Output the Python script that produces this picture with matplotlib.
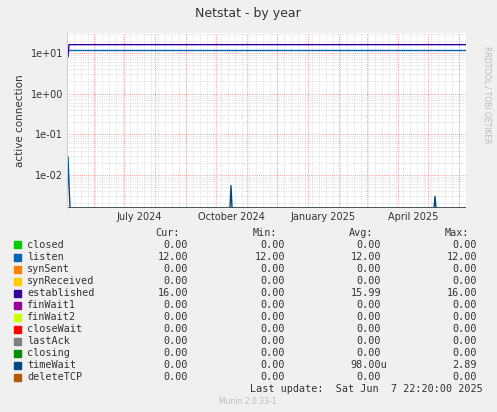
import matplotlib
matplotlib.use("Agg")
import matplotlib.pyplot as plt
import matplotlib.dates as mdates
import numpy as np
from datetime import datetime, timedelta

# ---- data ----
x_start = "2024-05-05"
x_end = "2025-06-08"
listen_dates = ["2024-05-06", "2025-06-08"]
listen_vals = [12, 12]
est_dates = ["2024-05-05", "2024-05-06", "2024-05-07", "2025-06-08"]
est_vals = [12, 8, 16, 16]
tw_dates = ["2024-05-05", "2024-05-06", "2024-05-07", "2024-05-08",
            "2024-10-15", "2024-10-16", "2024-10-17",
            "2025-05-07", "2025-05-08", "2025-05-09", "2025-06-08"]
tw_vals = [0, 0.028, 0.006, 0, 0, 0.0055, 0, 0, 0.003, 0, 0]
names = ["closed", "listen", "synSent", "synReceived", "established", "finWait1",
         "finWait2", "closeWait", "lastAck", "closing", "timeWait", "deleteTCP"]
colors = ["#00CC00", "#0066B3", "#FF8000", "#FFCC00", "#330099", "#990099",
          "#CCFF00", "#FF0000", "#808080", "#008F00", "#00487D", "#B35A00"]
cur = ["0.00", "12.00", "0.00", "0.00", "16.00", "0.00", "0.00", "0.00", "0.00", "0.00", "0.00", "0.00"]
mn = ["0.00", "12.00", "0.00", "0.00", "0.00", "0.00", "0.00", "0.00", "0.00", "0.00", "0.00", "0.00"]
avg = ["0.00", "12.00", "0.00", "0.00", "15.99", "0.00", "0.00", "0.00", "0.00", "0.00", "98.00u", "0.00"]
mx = ["0.00", "12.00", "0.00", "0.00", "16.00", "0.00", "0.00", "0.00", "0.00", "0.00", "2.89", "0.00"]
tick_dates = ["2024-07-16", "2024-10-16", "2025-01-16", "2025-04-16"]
tick_labels = ["July 2024", "October 2024", "January 2025", "April 2025"]

W, H = 497, 412
fig = plt.figure(figsize=(W/100, H/100), dpi=100, facecolor="#F0F0F0")
ax = fig.add_axes([67/W, 1-208/H, (466-67)/W, (208-33)/H])
ax.set_facecolor("white")
ax.set_yscale("log")
ymin, ymax = 10**-2.81, 10**1.49
ax.set_ylim(ymin, ymax)
d = lambda s: datetime.strptime(s, "%Y-%m-%d")
ax.set_xlim(d(x_start), d(x_end))

floor = ymin * 1.0001
def clip(v):
    return [max(x, floor) for x in v]

for i, n in enumerate(names):
    if n in ("listen", "established", "timeWait"):
        continue
    ax.plot([d(x_start), d(x_end)], [floor, floor], color=colors[i], lw=1)
ax.plot([d(s) for s in tw_dates], clip(tw_vals), color=colors[10], lw=1)
ax.step([d(s) for s in listen_dates], listen_vals, where="post", color=colors[1], lw=1)
ax.plot([d(s) for s in est_dates], est_vals, color=colors[4], lw=1)
ax.plot([d(x_start), d(x_end)], [floor, floor], color=colors[11], lw=1)

# grid
for m in range(12 * 2024 + 5, 12 * 2025 + 6):
    y, mo = divmod(m, 12)
    ax.axvline(datetime(y, mo + 1, 1), color="#F08080", lw=0.6, ls=(0, (1, 1.5)), zorder=0)
wk = d(x_start)
while wk < d(x_end):
    ax.axvline(wk, color="#C8C8C8", lw=0.5, ls=(0, (1, 1.5)), zorder=0)
    wk += timedelta(days=7)
for e in range(-3, 2):
    ax.axhline(10.0**e, color="#F08080", lw=0.6, ls=(0, (1, 1.5)), zorder=0)
    for k in range(2, 10):
        v = k * 10.0**e
        if ymin < v < ymax:
            ax.axhline(v, color="#C8C8C8", lw=0.5, ls=(0, (1, 1.5)), zorder=0)

ax.set_yticks([1e-2, 1e-1, 1, 10])
ax.set_yticklabels(["1e-02", "1e-01", "1e+00", "1e+01"])
ax.yaxis.set_minor_locator(matplotlib.ticker.NullLocator())
ax.set_xticks([d(s) for s in tick_dates])
ax.set_xticklabels(tick_labels)
ax.tick_params(length=0, labelsize=7, colors="#333333", pad=3)
for s in ax.spines.values():
    s.set_visible(False)
ax.spines["left"].set_visible(True)
ax.spines["left"].set_color("#CCCCFF")
ax.set_ylabel("active connection", fontsize=7.5, color="#333333")

fig.text(248/W, 1-13/H, "Netstat - by year", ha="center", va="center", fontsize=9, color="#333333")
fig.text(487/W, 1-95/H, "RRDTOOL / TOBI OETIKER", rotation=270, ha="center", va="center",
         fontsize=5.5, color="#BBBBBB")

mono = "DejaVu Sans Mono"
fs = 7.3
def row_y(i):
    return 1 - (245 + 12 * i) / H
hy = 1 - 233 / H
for txt, xr in (("Cur:", 180), ("Min:", 277), ("Avg:", 373), ("Max:", 469)):
    fig.text(xr/W, hy, txt, ha="right", va="center", family=mono, fontsize=fs, color="#333333")
for i, n in enumerate(names):
    y = row_y(i)
    fig.patches.append(plt.Rectangle((14/W, y - 3.5/H), 7/W, 7/H, transform=fig.transFigure,
                                     color=colors[i], figure=fig))
    fig.text(27/W, y, n, ha="left", va="center", family=mono, fontsize=fs, color="#333333")
    fig.text(188/W, y, cur[i], ha="right", va="center", family=mono, fontsize=fs, color="#333333")
    fig.text(285/W, y, mn[i], ha="right", va="center", family=mono, fontsize=fs, color="#333333")
    fig.text((387 if avg[i].endswith("u") else 381)/W, y, avg[i], ha="right", va="center",
             family=mono, fontsize=fs, color="#333333")
    fig.text(477/W, y, mx[i], ha="right", va="center", family=mono, fontsize=fs, color="#333333")
fig.text(483/W, 1 - 389/H, "Last update:  Sat Jun  7 22:20:00 2025", ha="right", va="center",
         family=mono, fontsize=fs, color="#333333")
fig.text(248/W, 1 - 401/H, "Munin 2.0.33-1", ha="center", va="center", fontsize=5.5, color="#BBBBBB")

fig.savefig("out.png", dpi=100, facecolor=fig.get_facecolor())
